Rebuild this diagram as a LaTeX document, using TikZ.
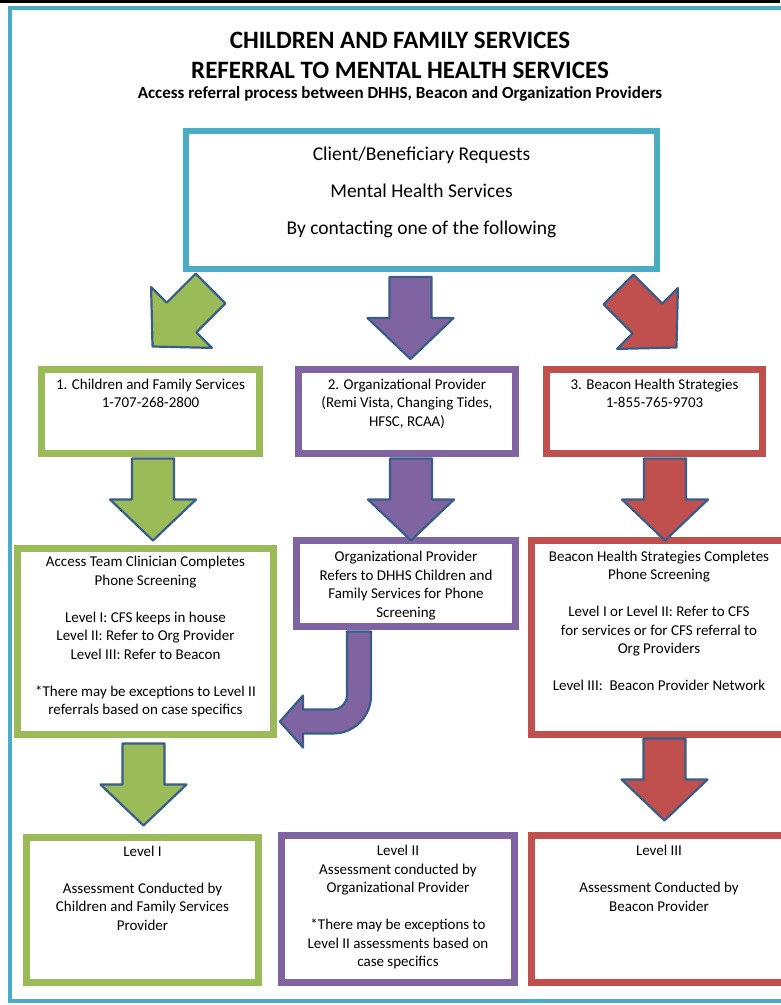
\documentclass[tikz,border=0pt]{standalone}
\usepackage{fontspec}
\setmainfont{Carlito}
\definecolor{cfsgreen}{HTML}{9BBB59}
\definecolor{orgpurple}{HTML}{8064A2}
\definecolor{bhsred}{HTML}{C0504D}
\definecolor{frameblue}{HTML}{4BACC6}
\definecolor{arrowblue}{HTML}{385D8A}
\usetikzlibrary{positioning}

\tikzset{
  pics/blockdown/.style={code={
    \draw[arrowblue, line width=2.2pt, line join=round, fill=#1]
      (-21,0) -- (21,0) -- (21,41) -- (43,41) -- (0,82) -- (-43,41) -- (-21,41) -- cycle;
  }},
  pics/blockcurl/.style={code={
    \draw[arrowblue, line width=2.2pt, line join=round, fill=#1]
      (-12,0) -- (12,0) -- (12,64) arc[start angle=0, end angle=90, radius=38]
      -- (-56,102) -- (-56,116) -- (-79,90) -- (-56,64) -- (-56,78) -- (-26,78)
      arc[start angle=90, end angle=0, radius=14] -- cycle;
  }}
}

\begin{document}
\begin{tikzpicture}[x=1pt, y=-1pt,
    box/.style={draw, line width=7pt, inner sep=0pt},
    boxtext/.style={font=\fontsize{15}{18.5}\selectfont, align=center, inner sep=0pt}]
  \useasboundingbox[fill=white] (0,0) rectangle (780,1005);

  % Page edge and outer frame
  \fill[black] (0,0) rectangle (780,2.5);
  \draw[frameblue, line width=4pt] (10,8) rectangle (790,1001);

  % Heading
  \node[font=\bfseries\fontsize{25}{30}\selectfont, align=center] (title) at (400,55)
    {CHILDREN AND FAMILY SERVICES\\REFERRAL TO MENTAL HEALTH SERVICES};
  \node[font=\bfseries\fontsize{17}{20}\selectfont] (subtitle) at (400,94)
    {Access referral process between DHHS, Beacon and Organization Providers};

  % Client request box
  \node[box, draw=frameblue, line width=6pt, minimum width=471pt, minimum height=138pt] (req) at (421.5,200) {};
  \node[font=\fontsize{19.5}{37}\selectfont, align=center] (reqtext) at (421.5,192)
    {Client/Beneficiary Requests\\Mental Health Services\\By contacting one of the following};

  % Three ways in
  \pic[rotate=-45] at ([shift={(27.5,16.5)}]req.south west) {blockdown=cfsgreen};
  \pic at ([shift={(-11,5)}]req.south) {blockdown=orgpurple};
  \pic[rotate=45] at ([shift={(-41.5,17.5)}]req.south east) {blockdown=bhsred};

  \node[box, draw=cfsgreen, minimum width=218pt, minimum height=84pt] (cfs) at (150.5,411.5) {};
  \node[box, draw=orgpurple, minimum width=217pt, minimum height=84pt] (org) at (407,411.5) {};
  \node[box, draw=bhsred, minimum width=216pt, minimum height=84pt] (bhs) at (654.5,411.5) {};
  \node[boxtext, below=12.5pt of cfs.north] (cfstext) {1. Children and Family Services\\1-707-268-2800};
  \node[boxtext, below=12.5pt of org.north] (orgtext) {2. Organizational Provider\\(Remi Vista, Changing Tides,\\HFSC, RCAA)};
  \node[boxtext, below=12.5pt of bhs.north] (bhstext) {3. Beacon Health Strategies\\1-855-765-9703};

  % Screening
  \node[box, draw=cfsgreen, minimum width=256pt, minimum height=186pt] (access) at (145.5,641.5) {};
  \node[box, draw=orgpurple, minimum width=219pt, minimum height=86pt] (orgref) at (406,583.5) {};
  \node[box, draw=bhsred, minimum width=255pt, minimum height=194pt] (beacon) at (659,637.5) {};
  \node[boxtext, below=11pt of access.north] (accesstext)
    {Access Team Clinician Completes\\Phone Screening\\[18.5pt]Level I: CFS keeps in house\\Level II: Refer to Org Provider\\Level III: Refer to Beacon\\[18.5pt]*There may be exceptions to Level II\\referrals based on case specifics};
  \node[boxtext, below=14pt of orgref.north] (orgreftext)
    {Organizational Provider\\Refers to DHHS Children and\\Family Services for Phone\\Screening};
  \node[boxtext, below=13.5pt of beacon.north] (beacontext)
    {Beacon Health Strategies Completes\\Phone Screening\\[18.5pt]Level I or Level II: Refer to CFS\\for services or for CFS referral to\\Org Providers\\[18.5pt]Level III:~ Beacon Provider Network};

  % Assessment level
  \node[box, draw=cfsgreen, minimum width=232pt, minimum height=145pt] (lvlI) at (142.5,910) {};
  \node[box, draw=orgpurple, minimum width=233pt, minimum height=147pt] (lvlII) at (398,909) {};
  \node[box, draw=bhsred, minimum width=255pt, minimum height=147pt] (lvlIII) at (659,909) {};
  \node[boxtext, below=11.5pt of lvlI.north] (lvlItext)
    {Level I\\[18.5pt]Assessment Conducted by\\Children and Family Services\\Provider};
  \node[boxtext, below=13pt of lvlII.north] (lvlIItext)
    {Level II\\Assessment conducted by\\Organizational Provider\\[18.5pt]*There may be exceptions to\\Level II assessments based on\\case specifics};
  \node[boxtext, below=13pt of lvlIII.north] (lvlIIItext)
    {Level III\\[18.5pt]Assessment Conducted by\\Beacon Provider};

  % Block arrows between rows
  \foreach \src/\dx/\dy/\col in {cfs/2.5/1.5/cfsgreen, org/4/1.5/orgpurple, bhs/10.5/1.5/bhsred,
                                 access/-2/5.5/cfsgreen, beacon/5.5/0.5/bhsred} {
    \pic at ([shift={(\dx,\dy)}]\src.south) {blockdown=\col};
  }
  \pic at ([shift={(-47,1.5)}]orgref.south) {blockcurl=orgpurple};
\end{tikzpicture}
\end{document}
